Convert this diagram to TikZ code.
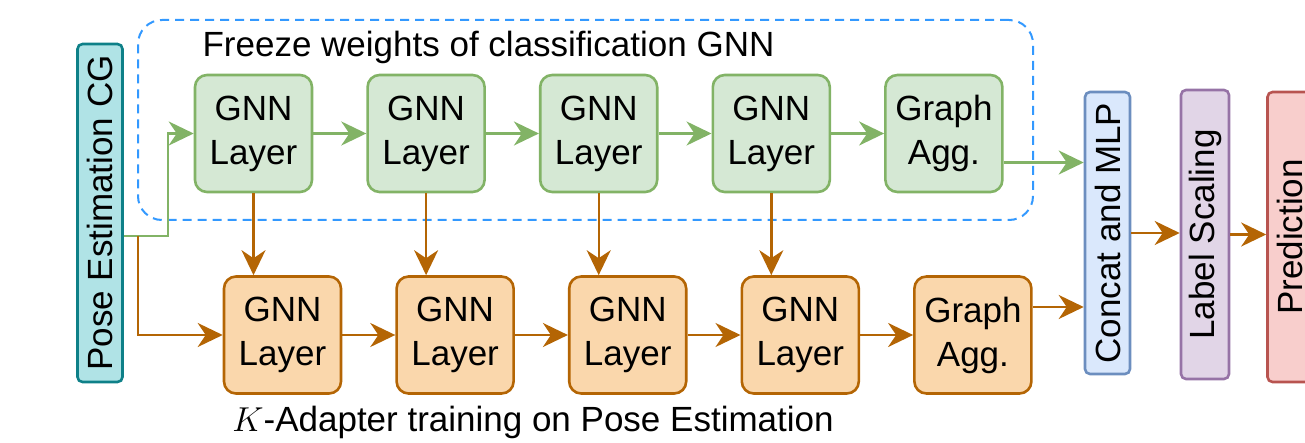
\documentclass[tikz,border=0pt]{standalone}
\usepackage{fontspec}
\setmainfont{Liberation Sans}
\usepackage{xcolor}
\usetikzlibrary{arrows.meta,positioning,calc}

\definecolor{frzfill}{HTML}{D5E8D4}
\definecolor{frzline}{HTML}{82B366}
\definecolor{adpfill}{HTML}{FAD7AC}
\definecolor{adpline}{HTML}{B46504}
\definecolor{cgfill}{HTML}{B0E3E6}
\definecolor{cgline}{HTML}{0E8088}
\definecolor{mlpfill}{HTML}{DAE8FC}
\definecolor{mlpline}{HTML}{6C8EBF}
\definecolor{sclfill}{HTML}{E1D5E7}
\definecolor{sclline}{HTML}{9673A6}
\definecolor{prdfill}{HTML}{F8CECC}
\definecolor{prdline}{HTML}{B85450}
\definecolor{frame}{HTML}{3399FF}

\begin{document}
\begin{tikzpicture}[
  x=0.5pt, y=-0.5pt,
  font=\fontsize{17.5}{22}\selectfont,
  layer/.style={draw, line width=1.3pt, rounded corners=6pt, align=center, inner sep=0pt, minimum width=58.5pt, minimum height=58.5pt},
  frozen/.style={layer, draw=frzline, fill=frzfill},
  adapt/.style={layer, draw=adpline, fill=adpfill},
  tall/.style={draw, rotate=90, line width=1.3pt, rounded corners=2.5pt, inner sep=0pt, minimum height=22.5pt},
  garr/.style={-{Stealth[length=12.5pt, width=12pt, inset=4pt]}, draw=frzline, line width=1.2pt},
  oarr/.style={-{Stealth[length=12.5pt, width=12pt, inset=4pt]}, draw=adpline, line width=1.2pt},
  frzbox/.style={draw=frame, dashed, dash pattern=on 4.5pt off 3pt, line width=1pt, rounded corners=12pt, minimum width=447.5pt, minimum height=100pt}
]
\useasboundingbox (0,0) rectangle (1305,443);

% frozen branch
\node[frzbox] (frz) at (585.5,120) {};
\node[anchor=base] (frztxt) at (488.5,57) {Freeze weights of classification GNN};
\node[frozen] (g1) at (253.5,133.5) {GNN\\Layer};
\node[frozen, right=26.5pt of g1] (g2) {GNN\\Layer};
\node[frozen, right=26.5pt of g2] (g3) {GNN\\Layer};
\node[frozen, right=26.5pt of g3] (g4) {GNN\\Layer};
\node[frozen, right=26.5pt of g4] (g5) {Graph\\Agg.};

% adapter branch
\node[adapt] (a1) at (282.5,335) {GNN\\Layer};
\node[adapt, right=26.5pt of a1] (a2) {GNN\\Layer};
\node[adapt, right=26.5pt of a2] (a3) {GNN\\Layer};
\node[adapt, right=26.5pt of a3] (a4) {GNN\\Layer};
\node[adapt, right=26.5pt of a4] (a5) {Graph\\Agg.};
\node[anchor=base] (adptxt) at (533,431) {$K$-Adapter training on Pose Estimation};

% input and head (rotated: .south is the right side)
\node[tall, draw=cgline, fill=cgfill, minimum width=169pt] (cg) at (100,213) {Pose Estimation CG};
\node[tall, draw=mlpline, fill=mlpfill, minimum width=141pt] (mlp) at (1107.5,233) {Concat and MLP};
\node[tall, draw=sclline, fill=sclfill, minimum width=144.5pt, minimum height=24pt] (scl) at (1205,234.5) {Label Scaling};
\node[tall, draw=prdline, fill=prdfill, minimum width=145pt] (prd) at (1290,237) {Prediction};

\coordinate (split) at (138,236);
\coordinate (rise) at (168,236);
\draw[garr] (cg.south |- split) -- (rise) |- (g1.west);
\draw[oarr] (split) |- (a1.west);

\foreach \i/\j in {1/2,2/3,3/4,4/5} {
  \draw[garr] (g\i.east) -- (g\j.west);
  \draw[oarr] (a\i.east) -- (a\j.west);
}
\foreach \i in {1,...,4}
  \draw[oarr] (g\i.south) -- (g\i.south |- a\i.north);

\draw[garr] ([yshift=-14.5pt]g5.east) -- ([yshift=-14.5pt]g5.east -| mlp.north);
\draw[oarr] ([yshift=14pt]a5.east) -- ([yshift=14pt]a5.east -| mlp.north);
\draw[oarr] (mlp.south) -- (mlp.south -| scl.north);
\draw[oarr] (scl.south) -- (scl.south -| prd.north);
\end{tikzpicture}
\end{document}
